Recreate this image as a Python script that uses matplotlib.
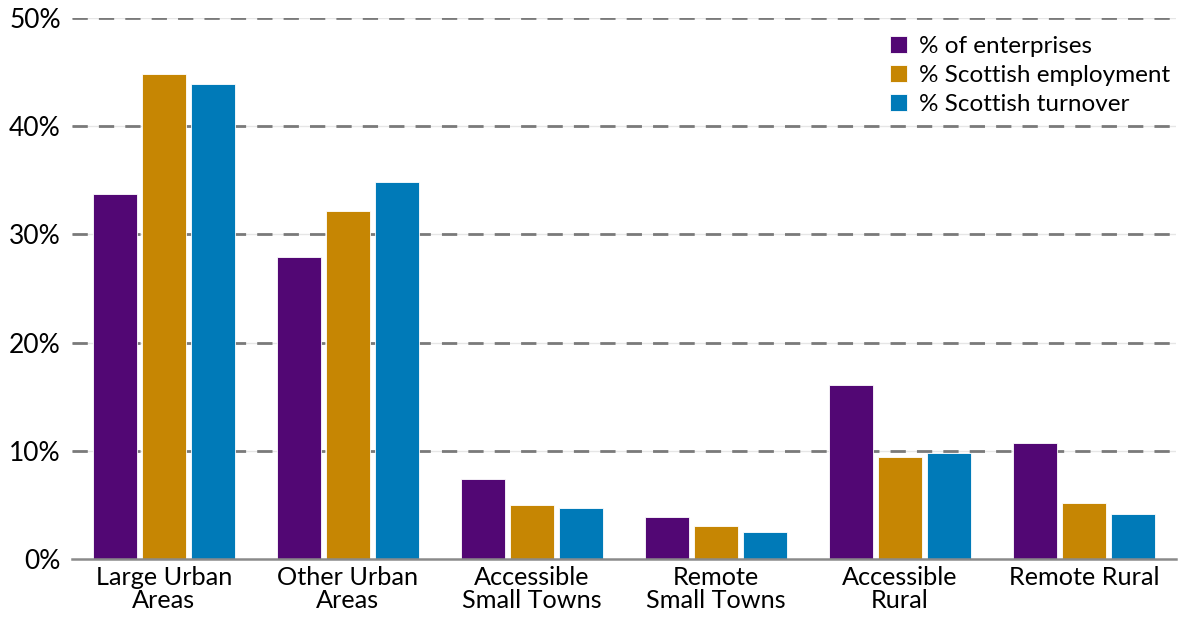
import numpy as np
import matplotlib
matplotlib.use("Agg")
import matplotlib.pyplot as plt

categories = ["Large Urban\nAreas", "Other Urban\nAreas", "Accessible\nSmall Towns",
              "Remote\nSmall Towns", "Accessible\nRural", "Remote Rural"]
enterprises = [33.7, 27.9, 7.4, 3.9, 16.1, 10.7]
employment = [44.8, 32.2, 5.0, 3.1, 9.45, 5.2]
turnover = [43.9, 34.8, 4.7, 2.5, 9.8, 4.15]
series = [("% of enterprises", enterprises, "#520774"),
          ("% Scottish employment", employment, "#C68603"),
          ("% Scottish turnover", turnover, "#007AB8")]
yticks = [0, 10, 20, 30, 40, 50]

plt.rcParams["font.family"] = ["Lato", "DejaVu Sans"]

fig = plt.figure(figsize=(11.8, 6.17), dpi=100)
ax = fig.add_axes([0.061, 0.0935, 0.9356, 0.8775])

x = np.arange(len(categories))
width, step = 0.24, 0.266
for i, (lab, vals, col) in enumerate(series):
    ax.bar(x + (i - 1) * step, vals, width, color=col, label=lab,
           edgecolor="white", linewidth=0.6, zorder=3)

ax.set_xlim(-0.5, len(categories) - 0.5)
ax.set_ylim(0, 50)
ax.set_yticks(yticks)
ax.set_yticklabels([f"{v}%" for v in yticks], fontsize=19)
ax.set_xticks(x)
ax.set_xticklabels(categories, fontsize=18.2, linespacing=1.0)
ax.tick_params(length=0, pad=5)
ax.tick_params(axis="y", pad=8)

for v in yticks[1:]:
    ax.axhline(v, color="#e6e6e6", lw=1.0, zorder=1)
    ax.axhline(v, color="#7a7a7a", lw=2.0, dashes=(5.5, 4), zorder=2)

for s in ["top", "right", "left"]:
    ax.spines[s].set_visible(False)
ax.spines["bottom"].set_color("#8a8a8a")
ax.spines["bottom"].set_linewidth(1.8)
ax.spines["bottom"].set_zorder(4)

leg = ax.legend(loc="upper right", bbox_to_anchor=(1.008, 0.993), frameon=False,
                fontsize=17.5, handlelength=0.7, handleheight=0.7,
                handletextpad=0.5, labelspacing=0.32, borderaxespad=0.2)

fig.savefig("out.png", dpi=100)
